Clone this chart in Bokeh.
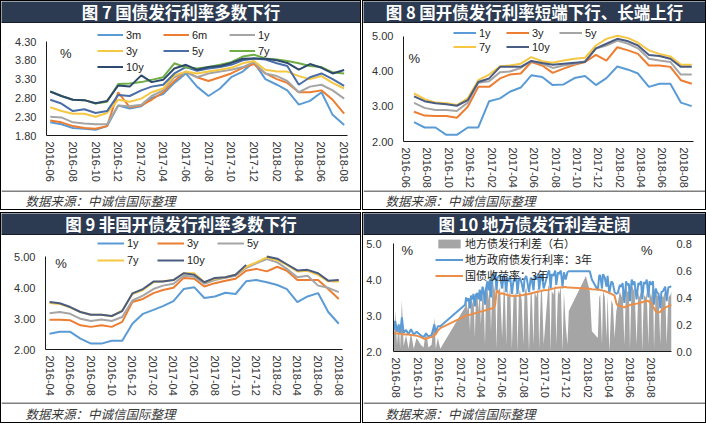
import math
import pandas as pd
from bokeh.plotting import figure
from bokeh.models import (Range1d, LinearAxis, FixedTicker, PrintfTickFormatter,
                          DatetimeTickFormatter, Legend, LegendItem, Label, Span)
from bokeh.layouts import column, row
from bokeh.core.properties import value
from bokeh.embed import file_html
from bokeh.resources import INLINE

# ---------------- data ----------------
titles = ["图 7 国债发行利率多数下行", "图 8 国开债发行利率短端下行、长端上行",
          "图 9 非国开债发行利率多数下行", "图 10 地方债发行利差走阔"]
source_note = "数据来源：中诚信国际整理"

# Fig 7: treasury issuance rates, monthly 2016-06 .. 2018-08
months7 = pd.date_range("2016-06-01", "2018-08-01", freq="MS")
names7 = ["3m", "6m", "1y", "3y", "5y", "7y", "10y"]
t3m = [2.15, 2.10, 2.00, 1.98, 1.95, 2.05, 2.60, 2.52, 2.58, 2.80, 2.90, 3.20, 3.45, 3.10, 2.85, 3.05, 3.35, 3.50, 3.75, 3.30, 3.15, 3.00, 2.62, 2.72, 2.95, 2.35, 2.08]
t6m = [2.20, 2.15, 2.05, 2.00, 1.98, 2.05, 2.95, 2.55, 2.60, 2.75, 2.95, 3.25, 3.50, 3.35, 3.25, 3.35, 3.45, 3.60, 3.70, 3.45, 3.30, 3.20, 2.95, 2.95, 3.00, 2.75, 2.38]
t1y = [2.30, 2.28, 2.15, 2.12, 2.10, 2.10, 2.60, 2.58, 2.62, 2.85, 3.00, 3.35, 3.48, 3.35, 3.45, 3.50, 3.55, 3.62, 3.75, 3.45, 3.38, 3.25, 2.95, 3.10, 3.15, 3.00, 2.78]
t3y = [2.55, 2.45, 2.38, 2.38, 2.30, 2.40, 2.75, 2.70, 2.78, 2.95, 3.05, 3.40, 3.50, 3.45, 3.50, 3.55, 3.60, 3.72, 3.78, 3.55, 3.50, 3.50, 3.38, 3.30, 3.38, 3.20, 3.05]
t5y = [2.75, 2.65, 2.45, 2.50, 2.40, 2.45, 2.88, 2.85, 3.00, 3.10, 3.15, 3.45, 3.62, 3.52, 3.58, 3.62, 3.68, 3.80, 3.85, 3.82, 3.72, 3.65, 3.15, 3.35, 3.45, 3.30, 3.12]
t7y = [2.97, 2.85, 2.75, 2.74, 2.65, 2.70, 3.17, 3.18, 3.22, 3.28, 3.35, 3.72, 3.61, 3.58, 3.62, 3.68, 3.75, 3.90, 3.95, 3.85, 3.82, 3.78, 3.72, 3.65, 3.62, 3.48, 3.45]
t10y = [2.97, 2.85, 2.75, 2.74, 2.66, 2.72, 3.13, 3.10, 3.40, 3.22, 3.28, 3.58, 3.68, 3.55, 3.62, 3.65, 3.73, 3.84, 3.85, 3.84, 3.80, 3.73, 3.55, 3.70, 3.60, 3.45, 3.54]
ticks7 = pd.date_range("2016-06-01", "2018-08-01", freq="2MS")

# Fig 8: CDB bonds, monthly (late-month observations) 2016-06 .. 2018-08
months8 = pd.date_range("2016-06-01", "2018-08-01", freq="MS") + pd.Timedelta(days=23)
names8 = ["1y", "3y", "5y", "7y", "10y"]
c1y = [2.55, 2.40, 2.40, 2.19, 2.19, 2.40, 2.40, 3.15, 3.23, 3.42, 3.54, 3.89, 3.84, 3.61, 3.63, 3.81, 3.87, 3.61, 3.81, 4.14, 4.05, 3.94, 3.56, 3.65, 3.65, 3.11, 3.01]
c3y = [2.85, 2.74, 2.73, 2.73, 2.68, 2.99, 3.56, 3.56, 3.80, 3.91, 3.94, 4.27, 4.17, 3.96, 4.08, 4.19, 4.27, 4.47, 4.31, 4.69, 4.60, 4.50, 4.17, 4.17, 4.13, 3.75, 3.65]
c5y = [3.10, 2.96, 2.90, 2.90, 2.87, 3.11, 3.68, 3.72, 3.98, 4.00, 4.10, 4.29, 4.22, 4.10, 4.17, 4.22, 4.29, 4.65, 4.74, 4.88, 4.79, 4.66, 4.36, 4.31, 4.27, 3.91, 3.91]
c7y = [3.37, 3.21, 3.11, 3.09, 3.04, 3.23, 3.75, 3.91, 4.15, 4.17, 4.22, 4.41, 4.29, 4.25, 4.31, 4.36, 4.39, 4.74, 4.93, 5.02, 4.95, 4.82, 4.60, 4.50, 4.43, 4.19, 4.19]
c10y = [3.29, 3.15, 3.09, 3.06, 3.02, 3.18, 3.70, 3.80, 4.13, 4.13, 4.13, 4.30, 4.24, 4.19, 4.22, 4.25, 4.27, 4.66, 4.79, 4.93, 4.86, 4.74, 4.47, 4.44, 4.36, 4.13, 4.13]
ticks8 = pd.date_range("2016-06-01", "2018-08-01", freq="2MS")

# Fig 9: non-CDB policy bank bonds, monthly 2016-04 .. 2018-08
months9 = pd.date_range("2016-04-01", "2018-08-01", freq="MS")
names9 = ["1y", "3y", "5y", "7y", "10y"]
n1y = [2.51, 2.57, 2.57, 2.35, 2.19, 2.19, 2.28, 2.28, 2.83, 3.15, 3.28, 3.40, 3.56, 3.95, 4.01, 3.66, 3.71, 3.83, 3.79, 4.20, 4.24, 4.17, 4.08, 3.95, 3.53, 3.71, 3.82, 3.21, 2.83]
n3y = [2.96, 2.96, 2.94, 2.78, 2.73, 2.78, 2.73, 2.89, 3.53, 3.63, 3.82, 3.92, 3.99, 4.31, 4.28, 4.03, 4.14, 4.22, 4.28, 4.54, 4.60, 4.52, 4.67, 4.54, 4.24, 4.24, 4.24, 3.95, 3.63]
n5y = [3.17, 3.21, 3.15, 2.99, 2.92, 2.97, 2.92, 3.05, 3.58, 3.74, 3.95, 4.06, 4.12, 4.38, 4.35, 4.12, 4.24, 4.31, 4.38, 4.63, 4.78, 4.92, 4.81, 4.60, 4.33, 4.38, 4.06, 3.99, 3.85]
n7y = [3.50, 3.47, 3.35, 3.21, 3.12, 3.12, 3.07, 3.26, 3.79, 3.92, 4.17, 4.20, 4.24, 4.46, 4.46, 4.17, 4.28, 4.33, 4.41, 4.67, 4.81, 4.97, 4.88, 4.73, 4.52, 4.54, 4.41, 4.20, 4.19]
n10y = [3.53, 3.49, 3.37, 3.21, 3.12, 3.12, 3.08, 3.24, 3.81, 3.95, 4.19, 4.19, 4.24, 4.46, 4.41, 4.17, 4.31, 4.33, 4.41, 4.73, float("nan"), 5.00, 4.93, 4.75, 4.55, 4.57, 4.46, 4.22, 4.24]
ticks9 = pd.date_range("2016-04-01", "2018-08-01", freq="2MS")

# Fig 10: local government bond 3y issuance rate vs 3y treasury yield, spread (right axis)
dates10 = (
    ["2016-07-25", "2016-07-29", "2016-08-03", "2016-08-08", "2016-08-12", "2016-08-17", "2016-08-22", "2016-08-29",
     "2016-09-05", "2016-09-12", "2016-09-20", "2016-09-28", "2016-10-10", "2016-10-18", "2016-10-25",
     "2016-11-01", "2016-11-10", "2016-11-18", "2016-11-22", "2016-11-28", "2016-12-05"]
    + ["2017-02-14", "2017-02-17", "2017-02-21", "2017-02-24", "2017-02-28",
       "2017-03-03", "2017-03-07", "2017-03-10", "2017-03-14", "2017-03-17", "2017-03-21", "2017-03-24", "2017-03-28", "2017-03-31",
       "2017-04-05", "2017-04-08", "2017-04-12", "2017-04-15", "2017-04-19", "2017-04-22", "2017-04-26", "2017-04-29",
       "2017-05-04", "2017-05-08", "2017-05-11", "2017-05-15", "2017-05-18", "2017-05-22", "2017-05-25", "2017-05-31",
       "2017-06-05", "2017-06-08", "2017-06-12", "2017-06-15", "2017-06-20", "2017-06-23", "2017-06-28",
       "2017-07-03", "2017-07-06", "2017-07-11", "2017-07-14", "2017-07-18", "2017-07-21", "2017-07-26", "2017-07-31",
       "2017-08-03", "2017-08-08", "2017-08-11", "2017-08-16", "2017-08-21", "2017-08-24", "2017-08-29",
       "2017-09-01", "2017-09-06", "2017-09-11", "2017-09-14", "2017-09-19", "2017-09-22", "2017-09-27",
       "2017-10-10", "2017-10-13", "2017-10-17", "2017-10-20", "2017-10-25", "2017-10-30",
       "2017-11-02", "2017-11-07", "2017-11-10", "2017-11-15", "2017-11-20", "2017-11-24", "2017-11-29"]
    + ["2017-12-04", "2017-12-08", "2018-01-26", "2018-02-06", "2018-02-12", "2018-03-01"]
    + ["2018-03-05", "2018-03-08", "2018-03-13", "2018-03-16", "2018-03-21", "2018-03-26", "2018-03-29",
       "2018-04-03", "2018-04-09", "2018-04-13", "2018-04-18", "2018-04-23", "2018-04-27",
       "2018-05-03", "2018-05-08", "2018-05-11", "2018-05-16", "2018-05-21", "2018-05-24", "2018-05-29",
       "2018-06-01", "2018-06-06", "2018-06-11", "2018-06-14", "2018-06-20", "2018-06-25", "2018-06-28",
       "2018-07-03", "2018-07-06", "2018-07-11", "2018-07-16", "2018-07-19", "2018-07-24", "2018-07-27",
       "2018-08-01", "2018-08-06", "2018-08-09", "2018-08-14", "2018-08-17", "2018-08-22", "2018-08-27", "2018-08-30",
       "2018-09-04", "2018-09-10", "2018-09-14", "2018-09-19", "2018-09-25", "2018-09-28"]
)
local3y = (
    [2.60, 2.85, 2.55, 2.75, 2.50, 2.95, 2.52, 2.60, 2.48, 2.62, 2.47, 2.55, 2.45, 2.40, 2.50, 2.42, 2.45, 2.75, 2.52, 2.70, 2.70]
    + [3.30, 3.50, 3.40, 3.48, 3.20,
       3.55, 3.45, 3.60, 3.25, 3.58, 3.62, 3.45, 3.72, 3.40,
       3.80, 3.70, 3.30, 3.75, 3.95, 3.70, 4.00, 3.50,
       4.15, 4.00, 4.20, 3.70, 4.05, 4.10, 4.12, 3.75,
       4.15, 4.00, 3.65, 4.05, 3.95, 4.10, 3.60,
       4.00, 3.95, 4.05, 3.60, 4.00, 4.05, 3.90, 3.65,
       4.00, 4.10, 3.95, 3.65, 4.05, 4.00, 3.70,
       4.10, 4.00, 4.15, 3.72, 4.10, 4.15, 3.75,
       4.20, 4.25, 3.75, 4.15, 4.10, 4.25,
       3.85, 4.20, 4.15, 4.25, 3.80, 4.20, 4.00]
    + [4.20, 4.23, 4.23, 4.23, 4.00, 3.70]
    + [4.10, 4.12, 3.75, 4.15, 4.05, 3.80, 4.10,
       3.62, 3.95, 3.90, 3.65, 3.60, 3.62,
       3.85, 3.80, 3.90, 3.35, 3.95, 3.85, 3.88,
       3.40, 4.00, 3.85, 3.95, 3.45, 3.90, 3.85,
       3.95, 3.45, 3.92, 3.88, 4.00, 3.50, 3.95,
       3.85, 3.95, 3.30, 3.75, 3.65, 3.60, 3.20, 3.65,
       3.68, 3.80, 3.40, 3.78, 3.80, 3.82]
)
gov3y = (
    [2.52, 2.51, 2.50, 2.50, 2.49, 2.49, 2.48, 2.47, 2.47, 2.46, 2.45, 2.44, 2.40, 2.36, 2.34, 2.38, 2.40, 2.45, 2.48, 2.58, 2.65]
    + [2.98, 3.00, 3.00, 3.01, 3.02,
       3.03, 3.04, 3.05, 3.06, 3.07, 3.08, 3.09, 3.10, 3.11,
       3.12, 3.13, 3.14, 3.15, 3.16, 3.17, 3.18, 3.19,
       3.20, 3.22, 3.30, 3.65, 3.70, 3.62, 3.60, 3.62,
       3.60, 3.58, 3.58, 3.57, 3.56, 3.55, 3.55,
       3.54, 3.54, 3.55, 3.55, 3.55, 3.56, 3.56, 3.57,
       3.58, 3.58, 3.59, 3.60, 3.61, 3.62, 3.63,
       3.64, 3.65, 3.66, 3.67, 3.68, 3.69, 3.70,
       3.71, 3.72, 3.73, 3.74, 3.75, 3.76,
       3.77, 3.77, 3.78, 3.78, 3.78, 3.79, 3.79]
    + [3.78, 3.78, 3.75, 3.74, 3.73, 3.72]
    + [3.72, 3.71, 3.70, 3.69, 3.68, 3.66, 3.65,
       3.62, 3.60, 3.58, 3.55, 3.35, 3.28,
       3.27, 3.25, 3.24, 3.23, 3.25, 3.27, 3.28,
       3.30, 3.30, 3.31, 3.32, 3.33, 3.34, 3.35,
       3.36, 3.37, 3.38, 3.40, 3.41, 3.40, 3.38,
       3.35, 3.25, 3.20, 3.12, 3.10, 3.08, 3.10, 3.14,
       3.18, 3.22, 3.24, 3.26, 3.28, 3.30]
)
spread10 = (
    [0.10, 0.30, 0.05, 0.22, 0.02, 0.38, 0.04, 0.12, 0.02, 0.14, 0.02, 0.10, 0.05, 0.03, 0.15, 0.03, 0.05, 0.25, 0.02, 0.10, 0.02]
    + [0.33, 0.40, 0.30, 0.38, 0.15,
       0.40, 0.35, 0.42, 0.10, 0.40, 0.44, 0.30, 0.46, 0.20,
       0.45, 0.40, 0.05, 0.42, 0.48, 0.38, 0.50, 0.15,
       0.55, 0.45, 0.50, 0.02, 0.40, 0.45, 0.48, 0.10,
       0.50, 0.42, 0.05, 0.46, 0.40, 0.48, 0.02,
       0.44, 0.40, 0.45, 0.00, 0.42, 0.46, 0.38, 0.05,
       0.42, 0.48, 0.40, 0.00, 0.45, 0.42, 0.05,
       0.45, 0.40, 0.48, 0.02, 0.44, 0.46, 0.05,
       0.48, 0.50, 0.00, 0.45, 0.42, 0.50,
       0.05, 0.46, 0.42, 0.48, 0.00, 0.44, 0.20]
    + [0.05, 0.30, 0.56, 0.45, 0.15, 0.10]
    + [0.40, 0.42, 0.05, 0.45, 0.40, 0.10, 0.42,
       0.00, 0.38, 0.35, 0.10, 0.30, 0.35,
       0.45, 0.40, 0.48, 0.05, 0.50, 0.44, 0.45,
       0.02, 0.52, 0.45, 0.48, 0.05, 0.44, 0.40,
       0.45, 0.00, 0.42, 0.40, 0.44, 0.05, 0.45,
       0.40, 0.50, 0.02, 0.48, 0.42, 0.40, 0.05, 0.42,
       0.40, 0.45, 0.05, 0.40, 0.42, 0.45]
)
names10 = ["地方债发行利差（右）", "地方政府债发行利率：3年", "国债收益率：3年"]
ticks10 = pd.date_range("2016-08-01", "2018-08-01", freq="2MS")
assert len(dates10) == len(local3y) == len(gov3y) == len(spread10), (len(dates10), len(local3y), len(gov3y), len(spread10))

# ---------------- style ----------------
NAVY = "#2C3B52"
TXT = "#333333"
FONT = "Liberation Sans"
CJK = "Noto Sans CJK SC"
col7 = ["#5B9BD5", "#ED7D31", "#A5A5A5", "#F5C743", "#4A6FA8", "#70AD47", "#2D4A6E"]
col8 = ["#5B9BD5", "#ED7D31", "#A5A5A5", "#F5C743", "#4A5C82"]

WL, WR = 359, 342          # inner widths of the left / right panels
CH_TOP, CH_BOT = 167, 167  # chart heights of the top / bottom rows
COMMON = dict(toolbar_location=None, output_backend="svg", frame_align=False)


def ms(d):
    return pd.Timestamp(d).value / 1e6


def title_bar(text, w, h):
    f = figure(width=w, height=h, x_range=Range1d(0, w), y_range=Range1d(0, h),
               x_axis_type=None, y_axis_type=None, min_border=0,
               background_fill_color=NAVY, border_fill_color=NAVY,
               outline_line_color=None, **COMMON)
    f.text(x=[w / 2], y=[h / 2 + 1], text=[text], text_align="center", text_baseline="middle",
           text_color="white", text_font=value(CJK), text_font_size="16.5px",
           text_font_style="bold")
    f.add_layout(Span(location=0.5, dimension="width", line_color="black", line_width=1))
    return f


def footer(w, h, x0):
    f = figure(width=w, height=h, x_range=Range1d(0, w), y_range=Range1d(0, h),
               x_axis_type=None, y_axis_type=None, min_border=0,
               background_fill_color="white", border_fill_color="white",
               outline_line_color=None, **COMMON)
    f.text(x=[x0], y=[h / 2 - 0.5], text=[source_note], text_align="left", text_baseline="middle",
           text_color="#3A3A3A", text_font=value(CJK), text_font_size="12.5px",
           text_font_style="italic")
    f.add_layout(Span(location=h - 0.5, dimension="width", line_color="black", line_width=1))
    return f


def chart(w, ch, xr, yr, yticks, yfmt, bl, br, bt, bb):
    # the frame reaches the top of the canvas so that the legend above the axis is not clipped;
    # the y range is extended accordingly and the axis line is bounded to the real range
    fh = ch - bt - bb
    ytop = yr[1] + bt * (yr[1] - yr[0]) / fh
    p = figure(width=w, height=ch, x_axis_type="datetime",
               x_range=Range1d(ms(xr[0]), ms(xr[1])), y_range=Range1d(yr[0], ytop),
               min_border_left=bl, min_border_right=br, min_border_top=0, min_border_bottom=bb,
               outline_line_color=None, background_fill_color="white",
               border_fill_color="white", **COMMON)
    p.grid.visible = False
    for ax in p.axis:
        ax.axis_line_color = "#1A1A1A"
        ax.axis_line_width = 1
        ax.major_tick_line_color = None
        ax.minor_tick_line_color = None
        ax.major_tick_out = 0
        ax.major_tick_in = 0
        ax.minor_tick_out = 0
        ax.minor_tick_in = 0
        ax.major_label_text_font = FONT
        ax.major_label_text_font_size = "11px"
        ax.major_label_text_color = TXT
    p.yaxis.ticker = FixedTicker(ticks=yticks)
    p.yaxis.formatter = PrintfTickFormatter(format=yfmt)
    p.yaxis.bounds = yr
    p.yaxis.major_label_standoff = 10
    p.xaxis.major_label_orientation = -math.pi / 2
    p.xaxis.major_label_standoff = 6
    return p, fh


def set_xticks(p, ticks):
    p.xaxis.ticker = FixedTicker(ticks=[ms(t) for t in ticks])
    f = "%Y-%m"
    p.xaxis.formatter = DatetimeTickFormatter(years=f, months=f, days=f, hours=f, hourmin=f,
                                              minutes=f, minsec=f, seconds=f,
                                              milliseconds=f, microseconds=f)


def add_legend(p, items, loc, ncols, gw, gh, lw, fs="11px", standoff=3, font=FONT):
    leg = Legend(items=items, location=loc, orientation="horizontal" if ncols > 1 else "vertical",
                 glyph_width=gw, glyph_height=gh, label_height=gh, label_width=lw,
                 label_standoff=standoff, spacing=1, padding=0, margin=0,
                 background_fill_alpha=0, border_line_color=None,
                 label_text_font=font, label_text_font_size=fs,
                 label_text_color="#222222")
    if ncols > 1:
        leg.ncols = ncols
    p.add_layout(leg)


def pct(p, x, y):
    p.add_layout(Label(x=ms(x), y=y, text="%", text_font=FONT, text_font_size="13px",
                       text_color="#222222", text_baseline="middle", text_align="left"))


# ---------------- Fig 7 ----------------
p7, _ = chart(WL, CH_TOP, ("2016-05-22", "2018-08-10"), (1.8, 4.3),
              [1.8, 2.3, 2.8, 3.3, 3.8, 4.3], "%.2f", 45, 13, 18, 55)
set_xticks(p7, ticks7)
r7 = []
for name, ys, c in zip(names7, [t3m, t6m, t1y, t3y, t5y, t7y, t10y], col7):
    r7.append(p7.line(x=list(months7), y=ys, line_color=c, line_width=2))
add_legend(p7, [LegendItem(label=n, renderers=[r]) for n, r in zip(names7, r7)],
           (51, 61), 3, 26, 15, 36)
pct(p7, "2016-06-27", 3.97)

# ---------------- Fig 8 ----------------
p8, _ = chart(WR, CH_TOP, ("2016-05-25", "2018-08-29"), (2.0, 5.0),
              [2.0, 3.0, 4.0, 5.0], "%.2f", 40, 12, 13, 48)
set_xticks(p8, ticks8)
r8 = []
for name, ys, c in zip(names8, [c1y, c3y, c5y, c7y, c10y], col8):
    r8.append(p8.line(x=list(months8), y=ys, line_color=c, line_width=2))
add_legend(p8, [LegendItem(label=n, renderers=[r]) for n, r in zip(names8, r8)],
           (50, 88), 3, 23, 13, 26)
pct(p8, "2016-06-08", 4.37)

# ---------------- Fig 9 ----------------
p9, _ = chart(WL, CH_BOT, ("2016-03-20", "2018-08-12"), (2.0, 5.0),
              [2.0, 3.0, 4.0, 5.0], "%.2f", 44, 18, 21, 53)
set_xticks(p9, ticks9)
r9 = []
for name, ys, c in zip(names9, [n1y, n3y, n5y, n7y, n10y], col8):
    r9.append(p9.line(x=list(months9), y=ys, line_color=c, line_width=2))
add_legend(p9, [LegendItem(label=n, renderers=[r]) for n, r in zip(names9, r9)],
           (52, 81), 3, 27, 16, 29)
pct(p9, "2016-04-18", 4.77)

# ---------------- Fig 10 ----------------
d10 = pd.to_datetime(dates10)
p10, fh10 = chart(WR, CH_BOT, ("2016-07-24", "2018-09-28"), (2.0, 5.0),
                  [2.0, 3.0, 4.0, 5.0], "%.1f", 26, 34, 8, 51)
p10.yaxis.major_label_standoff = 12
set_xticks(p10, ticks10)
rtop = 0.8 + 8 * 0.8 / fh10
p10.extra_y_ranges = {"spread": Range1d(0, rtop)}
ax2 = LinearAxis(y_range_name="spread", ticker=FixedTicker(ticks=[0.0, 0.2, 0.4, 0.6, 0.8]),
                 formatter=PrintfTickFormatter(format="%.1f"), bounds=(0, 0.8))
ax2.axis_line_color = None
ax2.major_tick_line_color = None
ax2.minor_tick_line_color = None
ax2.major_tick_out = 0
ax2.minor_tick_out = 0
ax2.major_label_standoff = 5
ax2.major_label_text_font = FONT
ax2.major_label_text_font_size = "11px"
ax2.major_label_text_color = TXT
p10.add_layout(ax2, "right")
ra = p10.varea(x=d10, y1=0, y2=spread10, fill_color="#A5A5A5", fill_alpha=1,
               y_range_name="spread")
rb = p10.line(x=d10, y=local3y, line_color="#5B9BD5", line_width=2)
rc = p10.line(x=d10, y=gov3y, line_color="#EB8E4A", line_width=2)
# one legend per entry so that each row can be placed individually
for (n, r), ly in zip(zip(names10, [ra, rb, rc]), [100, 84, 68]):
    add_legend(p10, [LegendItem(label=n, renderers=[r])], (42, ly), 1, 28, 11, 20,
               fs="11px", standoff=2, font=CJK)
pct(p10, "2016-08-16", 4.81)
pct(p10, "2018-07-03", 4.81)

# ---------------- layout ----------------
BORDER = {"border": "1px solid #000000"}
panel7 = column(title_bar(titles[0], WL, 22), p7, footer(WL, 19, 24), spacing=0, styles=BORDER)
panel8 = column(title_bar(titles[1], WR, 22), p8, footer(WR, 19, 22), spacing=0, styles=BORDER)
panel9 = column(title_bar(titles[2], WL, 22), p9, footer(WL, 20, 24), spacing=0, styles=BORDER)
panel10 = column(title_bar(titles[3], WR, 22), p10, footer(WR, 20, 22), spacing=0, styles=BORDER)

layout = column(row(panel7, panel8, spacing=1), row(panel9, panel10, spacing=1), spacing=2)

open("out.html", "w").write(file_html(layout, INLINE))
